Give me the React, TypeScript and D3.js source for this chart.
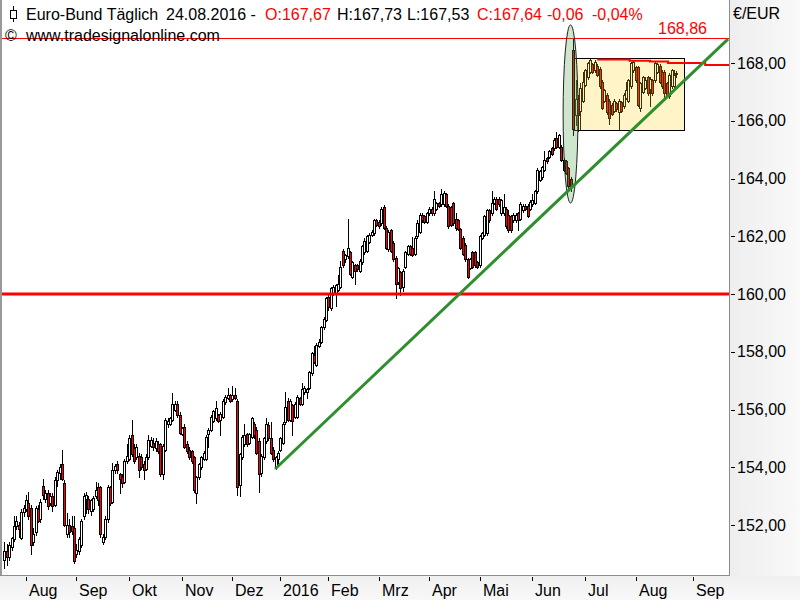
import React from "react";
import * as d3 from "d3";

// ---- data (daily OHLC, Euro-Bund, 21.07.2015 – 24.08.2016) ----
const OPEN = [
150.8,151.1,150.9,151.25,151.5,151.95,152.0,151.55,152.45,152.55,152.75,152.6,151.4,151.75,152.55,152.2,153.35,152.9,153.1,152.75,
153.0,152.7,153.55,153.8,154.1,153.45,151.7,152.0,151.95,151.9,151.0,151.1,151.3,152.3,152.9,152.9,152.5,152.55,153.0,153.3,
153.3,151.4,151.6,152.2,153.3,152.8,153.9,154.1,153.75,153.65,153.5,154.2,154.3,155.1,154.65,154.35,154.4,154.35,154.1,153.95,
154.35,154.75,154.85,154.65,154.8,154.8,153.75,154.6,155.5,155.5,155.65,156.0,156.2,155.8,155.15,155.4,154.8,154.6,154.55,154.35,
153.1,153.65,154.0,154.3,154.3,155.15,155.3,155.6,155.7,155.8,155.65,155.75,156.25,156.4,156.5,156.35,156.5,156.3,153.4,154.35,
154.8,155.15,154.85,155.05,155.5,155.3,154.9,153.8,154.35,154.9,155.45,155.0,154.6,154.0,154.3,154.6,154.85,155.55,156.3,155.65,
156.15,155.75,155.75,156.4,156.2,156.6,156.6,156.75,157.25,157.9,157.55,158.2,158.35,158.85,159.1,159.9,159.5,160.0,160.0,160.15,
160.25,161.5,161.2,161.3,161.45,160.6,161.0,161.0,160.8,161.1,161.45,161.5,161.8,162.05,162.1,162.55,162.5,162.45,163.0,162.3,
161.55,162.2,161.75,161.25,160.4,160.75,160.25,160.95,161.4,161.65,161.6,161.4,162.0,162.15,162.75,162.7,162.5,162.8,162.95,162.8,
162.95,163.15,163.1,163.1,163.45,163.05,163.0,163.15,162.6,162.55,162.25,161.95,161.7,161.2,160.9,161.45,161.45,161.1,161.0,161.95,
162.05,162.1,162.9,162.8,163.15,163.3,163.3,162.8,162.8,162.95,162.75,162.7,162.55,162.55,162.8,162.6,162.9,163.05,163.05,162.95,
163.1,163.15,163.55,163.95,164.05,164.3,164.7,164.75,165.05,165.05,165.4,165.1,165.1,164.65,164.6,164.35,164.0,168.45,166.2,166.75,
166.35,166.7,167.25,167.5,167.7,167.95,167.75,167.9,167.8,167.35,166.7,166.9,166.7,166.55,166.35,166.6,166.3,166.65,166.5,166.8,
166.7,167.2,167.75,167.85,167.85,166.45,167.0,167.15,167.5,167.1,167.4,167.4,167.7,167.9,167.7,167.7,167.3,166.85,167.2,167.2,
167.67];
const HIGH = [
151.4,151.35,151.4,151.6,152.3,152.3,152.1,152.55,152.7,153.05,153.15,152.7,151.9,152.65,152.7,152.9,153.6,153.2,153.2,153.1,
153.1,153.65,153.9,154.1,154.6,153.55,152.4,152.2,152.3,152.3,151.35,151.6,152.2,153.1,153.15,153.0,152.9,153.0,153.5,153.45,
153.35,151.7,152.3,153.4,153.35,154.15,154.1,154.2,153.8,153.75,154.3,154.8,155.1,155.65,154.8,154.8,154.5,154.45,154.2,154.45,
155.1,155.05,155.0,155.0,154.9,154.85,154.8,155.7,155.7,155.75,156.57,156.3,156.3,155.9,155.4,155.5,154.9,154.7,154.6,154.4,
153.7,154.15,154.4,154.55,155.1,155.35,155.8,156.0,156.3,155.85,155.9,156.35,156.5,156.75,156.55,156.8,156.75,156.35,154.5,155.1,
155.5,155.2,155.2,155.75,155.55,155.4,155.0,154.45,155.05,155.7,155.55,155.55,154.7,154.4,154.55,155.05,155.55,156.6,156.4,156.35,
156.2,156.25,156.5,156.45,156.93,156.8,156.75,157.35,158.0,158.2,158.3,158.45,158.9,159.2,159.9,160.0,160.25,160.3,160.35,160.66,
161.15,161.55,161.4,162.6,161.5,161.15,161.05,161.05,161.2,161.7,161.95,162.05,162.1,162.2,162.6,162.6,162.55,163.0,163.08,162.35,
162.2,162.25,161.85,161.3,160.95,160.8,160.85,161.5,161.7,161.7,161.99,162.0,162.55,162.8,162.8,162.75,162.85,163.0,163.0,163.55,
163.2,163.2,163.65,163.55,163.5,163.1,163.05,163.2,162.8,162.6,162.3,162.0,161.75,161.25,161.25,161.5,161.5,161.15,162.05,162.15,
162.75,162.95,162.95,163.55,163.35,163.35,163.35,163.3,163.45,163.0,162.9,162.75,162.8,162.8,162.85,163.2,163.1,163.1,163.1,163.25,
163.45,163.6,164.35,164.3,164.45,164.95,164.75,165.0,165.1,165.4,165.62,165.55,165.15,164.7,164.65,164.4,164.05,168.86,167.4,166.9,
167.3,167.7,167.8,168.05,168.14,168.0,168.1,167.95,167.85,167.4,167.1,166.95,166.75,166.6,166.75,166.65,166.75,166.7,166.95,167.35,
167.45,168.05,168.1,167.9,167.9,167.35,167.55,167.5,167.55,167.5,167.45,168.05,168.0,167.95,167.75,167.75,167.35,167.65,167.8,167.75,
167.73];
const LOW = [
150.5,150.6,150.8,151.15,151.45,151.85,151.6,151.5,152.3,152.5,152.2,151.0,151.3,151.65,152.1,152.1,152.9,152.8,152.55,152.7,
152.5,152.65,153.35,153.6,153.55,151.95,151.6,151.6,151.7,150.7,150.9,151.0,151.25,152.2,152.4,152.4,152.35,152.5,152.95,152.7,
151.6,151.35,151.5,152.1,152.7,152.75,153.8,153.8,153.1,153.3,153.45,154.15,154.25,154.4,154.15,154.3,153.65,153.95,153.6,153.9,
154.3,154.7,154.6,154.55,154.5,153.7,153.6,154.55,155.4,155.45,155.6,155.95,155.75,155.15,155.1,154.65,154.5,154.3,154.15,153.15,
152.75,153.6,153.95,154.25,154.25,154.7,155.25,155.55,155.65,155.55,155.1,155.7,156.2,156.35,156.25,156.3,156.35,153.05,153.0,154.3,
154.75,154.75,154.8,155.0,155.0,154.45,153.15,153.7,154.3,154.85,154.95,154.45,154.2,153.95,154.1,154.55,154.8,155.5,155.6,155.6,
155.1,155.7,155.7,156.15,156.15,156.55,156.4,156.7,157.2,157.6,157.5,158.15,158.3,158.8,159.05,159.45,159.45,159.95,159.6,160.1,
160.2,160.95,161.1,161.25,160.65,160.55,160.35,160.8,160.75,161.05,161.4,161.45,161.75,162.0,162.05,162.35,162.3,162.4,162.25,161.55,
161.5,161.45,161.15,159.85,160.35,159.95,160.1,160.9,161.35,161.35,161.3,161.35,161.95,162.1,162.5,162.45,162.45,162.75,162.75,162.75,
162.9,163.0,163.05,163.05,163.0,162.3,162.35,162.4,162.2,162.2,161.55,161.35,161.15,160.55,160.85,160.9,160.95,160.9,160.95,161.9,
162.0,162.05,162.5,162.75,163.1,162.9,163.05,162.75,162.75,162.3,162.15,162.15,162.5,162.5,162.2,162.55,162.85,162.9,162.65,162.9,
163.05,163.1,163.5,163.9,164.0,164.25,164.55,164.7,164.8,165.0,165.05,165.05,164.6,164.25,164.15,163.6,163.55,165.5,165.85,165.65,
165.7,166.65,167.2,167.45,167.65,167.65,167.7,167.55,167.15,166.4,166.65,166.25,165.9,166.2,166.3,166.35,165.7,166.3,166.45,166.75,
166.65,167.15,167.7,167.35,166.5,166.35,166.95,167.1,166.9,166.5,166.9,167.35,167.65,167.3,167.15,166.75,166.85,166.8,167.15,167.15,
167.53];
const CLOSE = [
151.1,150.9,151.3,151.55,151.95,152.15,151.85,152.45,152.6,152.85,152.3,151.3,151.7,152.6,152.15,152.8,153.05,153.1,152.65,153.0,
152.65,153.55,153.85,154.0,153.6,152.0,152.0,151.75,151.8,150.75,151.15,151.5,152.15,153.0,153.05,152.55,152.85,152.95,153.2,152.85,
151.7,151.6,152.2,153.3,152.75,153.9,154.05,153.9,153.6,153.45,154.2,154.4,155.0,154.45,154.2,154.7,153.9,154.0,153.9,154.35,
154.95,154.95,154.7,154.9,154.55,153.75,154.75,155.65,155.6,155.7,156.2,156.2,155.8,155.2,155.35,154.7,154.55,154.35,154.2,153.2,
153.65,154.1,154.35,154.5,155.05,155.3,155.75,155.95,156.05,155.6,155.85,156.3,156.45,156.5,156.3,156.5,156.4,153.3,154.45,155.05,
155.1,154.8,155.15,155.7,155.1,154.5,153.75,154.4,155.0,155.5,155.0,154.5,154.3,154.35,154.5,155.0,155.5,156.1,155.65,156.3,
155.6,156.2,156.45,156.2,156.7,156.75,156.7,157.3,157.95,157.65,158.25,158.35,158.85,159.15,159.85,159.55,160.2,160.25,160.3,160.35,
160.95,161.0,161.35,161.6,160.7,161.1,160.8,160.85,161.15,161.65,161.85,162.0,162.05,162.15,162.55,162.4,162.35,162.95,162.3,161.6,
162.15,161.5,161.2,160.35,160.9,160.2,160.8,161.45,161.65,161.4,161.35,161.95,162.45,162.75,162.55,162.5,162.8,162.95,162.8,163.3,
163.15,163.05,163.45,163.5,163.05,162.35,162.4,162.45,162.3,162.25,161.6,161.4,161.2,160.6,161.2,160.95,161.0,160.95,162.0,162.1,
162.7,162.9,162.55,163.15,163.3,162.95,163.1,163.25,163.0,162.35,162.2,162.2,162.75,162.75,162.55,163.1,163.05,162.95,162.7,163.2,
163.25,163.55,164.3,164.25,164.4,164.65,164.6,164.95,164.85,165.35,165.1,165.5,164.65,164.3,164.2,163.75,163.75,165.7,166.75,166.2,
167.15,167.35,167.75,168.0,168.1,167.7,168.05,167.6,167.2,166.45,167.05,166.3,166.1,166.25,166.7,166.4,166.7,166.35,166.9,167.05,
167.4,168.0,168.05,167.4,166.55,167.3,167.5,167.4,166.95,167.45,166.95,168.0,167.95,167.35,167.2,166.95,166.9,167.6,167.75,167.6,
167.64];

const MONTH_LABELS = ["Aug", "Sep", "Okt", "Nov", "Dez", "2016", "Feb", "Mrz", "Apr", "Mai", "Jun", "Jul", "Aug", "Sep"];
const MONTH_START_INDEX = [9, 30, 52, 74, 95, 115, 135, 156, 177, 198, 220, 242, 263, 287];
const PRICE_TICKS = [152, 154, 156, 158, 160, 162, 164, 166, 168];
const SUPPORT_LEVEL = 160;
const HIGH_LEVEL = 168.86;
const TREND_POINTS: [number, number][] = [[112.8, 153.94], [301.5, 168.83]];
const RESIST_STEPS: [number, number][] = [[247, 168.12], [260.5, 168.08], [269, 168.05], [276.5, 168.0], [292, 167.93], [303, 167.93]];
const BOX_RANGE = { from: 237.5, to: 283.3, top: 168.16, bottom: 165.66 };
const ELLIPSE_RANGE = { center: 235.9, halfWidth: 3.1, top: 169.32, bottom: 163.15 };

const HEADER_NAME = "Euro-Bund Täglich";
const HEADER_DATE = "24.08.2016 -";
const HEADER_O = "O:167,67";
const HEADER_H = "H:167,73";
const HEADER_L = "L:167,53";
const HEADER_C = "C:167,64";
const HEADER_CHG = "-0,06";
const HEADER_PCT = "-0,04%";

const FONT = "'Liberation Sans', Arial, sans-serif";
const W = 800, H = 600;
const PLOT_RIGHT = 729, PLOT_BOTTOM = 575;

export default function App() {
  const x = d3.scaleLinear().domain([0, 280]).range([4.4, 676.4]);
  const y = d3.scaleLinear().domain([152, 168]).range([525, 63]);
  const fmt = (v: number) => d3.format(".2f")(v).replace(".", ",");

  const candles = CLOSE.map((c, i) => {
    const o = OPEN[i], h = HIGH[i], l = LOW[i];
    const cx = Math.round(x(i));
    const top = Math.round(y(Math.max(o, c)));
    const bot = Math.round(y(Math.min(o, c)));
    const up = c >= o;
    return (
      <g key={i}>
        <line x1={cx + 0.5} x2={cx + 0.5} y1={Math.round(y(h))} y2={Math.round(y(l)) + 1} stroke="#000" strokeWidth={1} />
        <rect x={cx - 0.5} y={top + 0.5} width={2} height={Math.max(bot - top, 1)} fill={up ? "#fff" : "#ff0000"} stroke="#000" strokeWidth={1} />
      </g>
    );
  });

  const trendLine = d3.line<[number, number]>().x((d) => x(d[0])).y((d) => y(d[1]));
  const stepLine = d3.line<[number, number]>().x((d) => x(d[0])).y((d) => y(d[1])).curve(d3.curveStepAfter);

  const bx0 = x(BOX_RANGE.from), bx1 = x(BOX_RANGE.to);
  const by0 = y(BOX_RANGE.top), by1 = y(BOX_RANGE.bottom);
  const ecx = x(ELLIPSE_RANGE.center);
  const erx = x(ELLIPSE_RANGE.center + ELLIPSE_RANGE.halfWidth) - ecx;
  const ecy = (y(ELLIPSE_RANGE.top) + y(ELLIPSE_RANGE.bottom)) / 2;
  const ery = (y(ELLIPSE_RANGE.bottom) - y(ELLIPSE_RANGE.top)) / 2;

  return (
    <svg width={W} height={H} style={{ position: "absolute", left: 0, top: 0, background: "#fff" }} fontFamily={FONT}>
      <defs>
        <linearGradient id="axisR" x1="0" x2="1" y1="0" y2="0">
          <stop offset="0" stopColor="#eeeeee" />
          <stop offset="1" stopColor="#f9f9f9" />
        </linearGradient>
        <linearGradient id="axisB" x1="0" x2="0" y1="0" y2="1">
          <stop offset="0" stopColor="#f0f0f0" />
          <stop offset="1" stopColor="#f8f8f8" />
        </linearGradient>
        <clipPath id="plot">
          <rect x={1} y={0} width={PLOT_RIGHT - 1} height={PLOT_BOTTOM} />
        </clipPath>
      </defs>
      <rect x={0} y={0} width={W} height={H} fill="#fff" />
      <rect x={PLOT_RIGHT + 1} y={0} width={W - PLOT_RIGHT - 1} height={H} fill="url(#axisR)" />
      <rect x={0} y={PLOT_BOTTOM + 1} width={W} height={H - PLOT_BOTTOM - 1} fill="url(#axisB)" />

      <g clipPath="url(#plot)">
        <g shapeRendering="crispEdges">{candles}</g>
        <line x1={0} x2={PLOT_RIGHT} y1={y(SUPPORT_LEVEL)} y2={y(SUPPORT_LEVEL)} stroke="#ff0000" strokeWidth={3} />
        <line x1={0} x2={PLOT_RIGHT} y1={Math.round(y(HIGH_LEVEL)) + 0.5} y2={Math.round(y(HIGH_LEVEL)) + 0.5} stroke="#ff0000" strokeWidth={1} />
        <rect x={Math.round(bx0) + 0.5} y={Math.round(by0) + 0.5} width={Math.round(bx1 - bx0)} height={Math.round(by1 - by0)} fill="rgba(250,210,20,0.24)" stroke="#000" strokeWidth={1} />
        <ellipse cx={ecx} cy={ecy} rx={erx} ry={ery} fill="rgba(80,160,80,0.28)" stroke="#222" strokeWidth={1} />
        <path d={stepLine(RESIST_STEPS) || ""} fill="none" stroke="#ff0000" strokeWidth={2} />
        <path d={trendLine(TREND_POINTS) || ""} fill="none" stroke="#2f8f2f" strokeWidth={3} />
      </g>

      {/* frame */}
      <line x1={1} x2={1} y1={0} y2={PLOT_BOTTOM + 1} stroke="#999" strokeWidth={2} />
      <line x1={PLOT_RIGHT + 0.5} x2={PLOT_RIGHT + 0.5} y1={0} y2={PLOT_BOTTOM + 1} stroke="#8c8c8c" strokeWidth={1} />
      <line x1={0} x2={PLOT_RIGHT + 1} y1={PLOT_BOTTOM + 0.5} y2={PLOT_BOTTOM + 0.5} stroke="#8c8c8c" strokeWidth={1} />

      {/* header */}
      <g shapeRendering="crispEdges">
        <line x1={13.5} x2={13.5} y1={6} y2={22} stroke="#000" />
        <rect x={10.5} y={10.5} width={6} height={8} fill="#fff" stroke="#000" />
      </g>
      <text y={19.5} fontSize={16} fill="#000">
        <tspan x={26}>{HEADER_NAME}</tspan>
        <tspan x={166}>{HEADER_DATE}</tspan>
        <tspan x={265} fill="#ff0000">{HEADER_O}</tspan>
        <tspan x={337}>{HEADER_H}</tspan>
        <tspan x={407}>{HEADER_L}</tspan>
        <tspan x={477} fill="#ff0000">{HEADER_C}</tspan>
        <tspan x={547} fill="#ff0000">{HEADER_CHG}</tspan>
        <tspan x={592} fill="#ff0000">{HEADER_PCT}</tspan>
      </text>
      <text x={5} y={41} fontSize={16} fill="#000">©</text>
      <text x={26} y={41} fontSize={16} fill="#000">www.tradesignalonline.com</text>
      <text x={707} y={33.5} fontSize={16} fill="#ff0000" textAnchor="end">{fmt(HIGH_LEVEL)}</text>

      {/* right axis */}
      <text x={733} y={19} fontSize={16} fill="#000">€/EUR</text>
      {PRICE_TICKS.map((t) => (
        <g key={t}>
          <line x1={731} x2={735} y1={Math.round(y(t)) + 0.5} y2={Math.round(y(t)) + 0.5} stroke="#000" />
          <text x={737} y={y(t) + 5.5} fontSize={16} fill="#000">{fmt(t)}</text>
        </g>
      ))}

      {/* bottom axis */}
      {MONTH_START_INDEX.map((mi, k) => {
        const tx = Math.round(x(mi));
        return (
          <g key={k}>
            <line x1={tx + 0.5} x2={tx + 0.5} y1={577} y2={581} stroke="#000" />
            <text x={tx + 3} y={596} fontSize={16} fill="#000">{MONTH_LABELS[k]}</text>
          </g>
        );
      })}
    </svg>
  );
}
